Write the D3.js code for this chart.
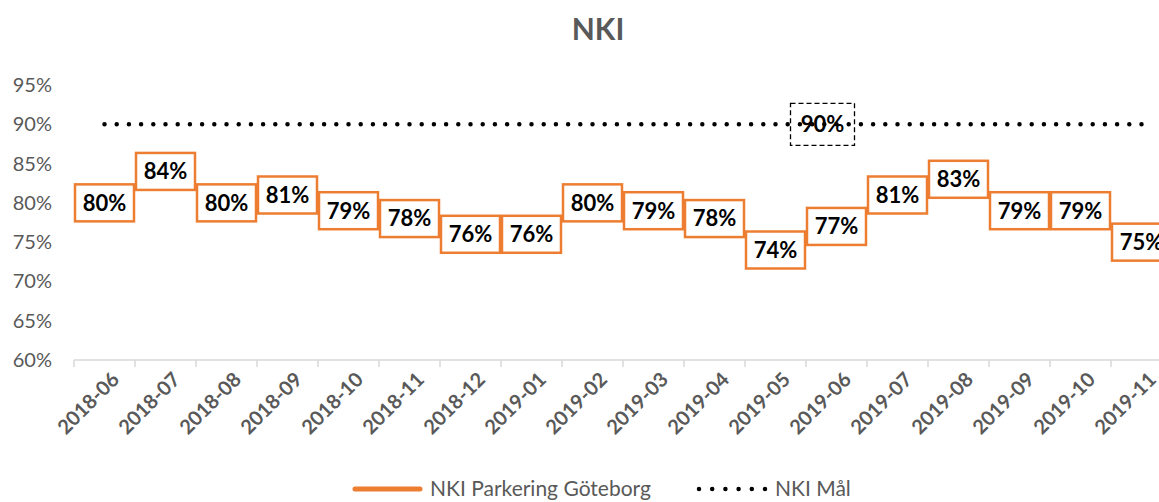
<!DOCTYPE html>
<html>
<head>
<meta charset="utf-8">
<script src="https://cdn.jsdelivr.net/npm/d3@7"></script>
<style>
  body { margin: 0; background: #fff; }
  svg { font-family: Lato, "Open Sans", sans-serif; }
</style>
</head>
<body>
<div id="chartdiv"></div>
<script>
// chart data
const months = ["2018-06","2018-07","2018-08","2018-09","2018-10","2018-11","2018-12","2019-01","2019-02",
                "2019-03","2019-04","2019-05","2019-06","2019-07","2019-08","2019-09","2019-10","2019-11"];
const nkiParkering = [0.80,0.84,0.80,0.81,0.79,0.78,0.76,0.76,0.80,0.79,0.78,0.74,0.77,0.81,0.83,0.79,0.79,0.75];
const nkiMal = [0.90,0.90,0.90,0.90,0.90,0.90,0.90,0.90,0.90,0.90,0.90,0.90,0.90,0.90,0.90,0.90,0.90,0.90];
const yTicks = [0.60,0.65,0.70,0.75,0.80,0.85,0.90,0.95];
const malLabelIndex = 12;

const W = 1159, H = 502;
const orange = "#ED7D31";
const grey = "#595959";
const pct = d3.format(".0%");

let svg = d3.select("#chartdiv").append("svg")
  .attr("width", W)
  .attr("height", H);

let x = d3.scaleBand()
  .domain(months)
  .range([74, 74 + 61 * months.length])
  .paddingInner(0).paddingOuter(0);

let y = d3.scaleLinear()
  .domain([0.60, 0.95])
  .range([360, 85]);

const cx = (i) => x(months[i]) + x.bandwidth() / 2;

// title
svg.append("text")
  .attr("x", 598).attr("y", 40)
  .attr("text-anchor", "middle")
  .style("font-size", "30px").style("font-weight", "bold")
  .attr("fill", grey)
  .text("NKI");

// y tick labels (no axis line)
svg.selectAll(".ytick")
  .data(yTicks)
  .enter()
  .append("text")
  .attr("class", "ytick")
  .attr("x", 52)
  .attr("y", d => y(d))
  .attr("dy", "0.35em")
  .attr("text-anchor", "end")
  .style("font-size", "20px")
  .attr("fill", grey)
  .text(d => pct(d));

// x axis
let xAxis = svg.append("g")
  .attr("transform", `translate(0, ${y(0.60)})`);
xAxis.append("line")
  .attr("x1", 74).attr("x2", W)
  .attr("stroke", "#D9D9D9").attr("stroke-width", 1.5);
xAxis.selectAll(".xtickmark")
  .data(months)
  .enter()
  .append("line")
  .attr("x1", d => x(d)).attr("x2", d => x(d))
  .attr("y1", 0).attr("y2", 7)
  .attr("stroke", "#D9D9D9").attr("stroke-width", 1.5);
xAxis.selectAll(".xlabel")
  .data(months)
  .enter()
  .append("text")
  .attr("transform", d => `translate(${x(d) + x.bandwidth() / 2 + 6}, 11) rotate(-45)`)
  .attr("text-anchor", "end")
  .attr("dy", "0.7em")
  .style("font-size", "20px").style("font-weight", "bold")
  .attr("fill", grey)
  .text(d => d);

// target line (dotted)
let line = d3.line()
  .x((d, i) => cx(i))
  .y(d => y(d));

svg.append("path")
  .datum(nkiMal)
  .attr("d", line)
  .attr("fill", "none")
  .attr("stroke", "black")
  .attr("stroke-width", 4.5)
  .attr("stroke-linecap", "round")
  .attr("stroke-dasharray", "0,12.2");

// main series
svg.append("path")
  .datum(nkiParkering)
  .attr("d", line)
  .attr("fill", "none")
  .attr("stroke", orange)
  .attr("stroke-width", 3);

// data label boxes
const bw = 59, bh = 37;
let labels = svg.selectAll(".dlabel")
  .data(nkiParkering)
  .enter()
  .append("g")
  .attr("class", "dlabel")
  .attr("transform", (d, i) => `translate(${cx(i)}, ${y(d)})`);
labels.append("rect")
  .attr("x", -bw / 2).attr("y", -bh / 2)
  .attr("width", bw).attr("height", bh)
  .attr("fill", "white")
  .attr("stroke", orange).attr("stroke-width", 2.5);
labels.append("text")
  .attr("text-anchor", "middle")
  .attr("dy", "0.36em")
  .style("font-size", "22px").style("font-weight", "bold")
  .attr("fill", "black")
  .text(d => pct(d));

// target label
let malLabel = svg.append("g")
  .attr("transform", `translate(${cx(malLabelIndex) - 14}, ${y(nkiMal[malLabelIndex])})`);
malLabel.append("rect")
  .attr("x", -32).attr("y", -21)
  .attr("width", 64).attr("height", 42)
  .attr("fill", "none")
  .attr("stroke", "black").attr("stroke-width", 1.3)
  .attr("stroke-dasharray", "5,3");
malLabel.append("text")
  .attr("text-anchor", "middle")
  .attr("dy", "0.36em")
  .style("font-size", "22px").style("font-weight", "bold")
  .attr("fill", "black")
  .text(pct(nkiMal[malLabelIndex]));

// legend
let legend = svg.append("g").attr("transform", "translate(0, 489)");
legend.append("line")
  .attr("x1", 355).attr("x2", 420)
  .attr("stroke", orange).attr("stroke-width", 5).attr("stroke-linecap", "round");
legend.append("text")
  .attr("x", 430).attr("dy", "0.35em")
  .style("font-size", "21px").attr("fill", grey)
  .text("NKI Parkering Göteborg");
legend.append("line")
  .attr("x1", 699).attr("x2", 765)
  .attr("stroke", "black").attr("stroke-width", 4.5)
  .attr("stroke-linecap", "round").attr("stroke-dasharray", "0,13.2");
legend.append("text")
  .attr("x", 775).attr("dy", "0.35em")
  .style("font-size", "21px").attr("fill", grey)
  .text("NKI Mål");
</script>
</body>
</html>
